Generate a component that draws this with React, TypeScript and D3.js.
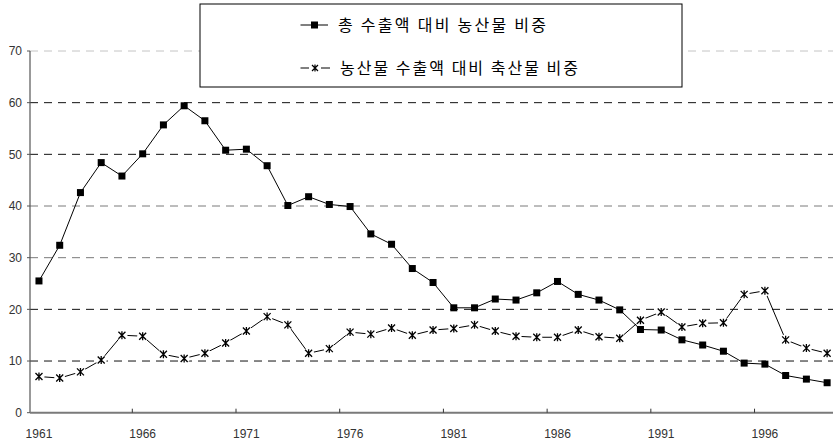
import * as d3 from 'd3';

// 연도 (1961-1999)
const years = d3.range(1961, 2000);

// 총 수출액 대비 농산물 비중 (%)
const agriShare = [
  25.5, 32.4, 42.6, 48.4, 45.8, 50.1, 55.7, 59.4, 56.5, 50.8,
  51.0, 47.8, 40.1, 41.8, 40.3, 39.9, 34.6, 32.6, 27.9, 25.2,
  20.3, 20.3, 22.0, 21.8, 23.2, 25.4, 22.9, 21.8, 19.9, 16.1,
  16.0, 14.1, 13.1, 11.9, 9.6, 9.4, 7.2, 6.5, 5.8,
];

// 농산물 수출액 대비 축산물 비중 (%)
const livestockShare = [
  7.0, 6.7, 7.9, 10.2, 15.0, 14.8, 11.3, 10.5, 11.5, 13.5,
  15.8, 18.6, 17.0, 11.5, 12.4, 15.6, 15.2, 16.4, 15.0, 16.0,
  16.3, 17.0, 15.8, 14.8, 14.6, 14.6, 16.0, 14.7, 14.4, 17.9,
  19.5, 16.6, 17.3, 17.4, 22.9, 23.6, 14.1, 12.5, 11.5,
];

const yTicks = [0, 10, 20, 30, 40, 50, 60, 70];
const xLabelYears = [1961, 1966, 1971, 1976, 1981, 1986, 1991, 1996];
const seriesNames = ['총 수출액 대비 농산물 비중', '농산물 수출액 대비 축산물 비중'];

const W = 833;
const H = 443;

const starPath = (s: number) =>
  `M${-s},${-s}L${s},${s}M${s},${-s}L${-s},${s}M0,${-s - 0.5}L0,${s + 0.5}`;

export default function App() {
  const x = d3.scaleBand<number>().domain(years).range([28.6, 837.5]).padding(0);
  const cx = (yr: number) => (x(yr) ?? 0) + x.bandwidth() / 2;
  const y = d3.scaleLinear().domain([0, 70]).range([412.7, 51]);

  const line = d3
    .line<number>()
    .x((_, i) => cx(years[i]))
    .y((d) => y(d));

  // the scanned original renders some grid lines lighter than others
  const gridColor = (v: number) => (v === 70 ? '#c4c4c4' : v === 30 || v === 40 ? '#7a7a7a' : '#111');
  const font = '"Liberation Sans", Arial, sans-serif';
  const kfont = '"Noto Sans CJK KR", "Noto Sans", sans-serif';

  return (
    <div style={{ position: 'absolute', left: 0, top: 0 }}>
      <svg width={W} height={H} style={{ display: 'block', background: '#fff' }}>
        {/* grid */}
        {yTicks.filter((t) => t > 0).map((t) => (
          <line
            key={t}
            x1={30}
            x2={W}
            y1={y(t)}
            y2={y(t)}
            stroke={gridColor(t)}
            strokeWidth={1}
            strokeDasharray="8,6"
          />
        ))}

        {/* y axis */}
        <line x1={30} x2={30} y1={y(70)} y2={y(0)} stroke="#555" strokeWidth={1.2} />
        {yTicks.map((t) => (
          <g key={t}>
            <line x1={27} x2={30} y1={y(t)} y2={y(t)} stroke="#555" />
            <text
              x={22}
              y={y(t)}
              dy="0.35em"
              textAnchor="end"
              fontFamily={font}
              fontSize={12}
              fill="#333"
            >
              {t}
            </text>
          </g>
        ))}

        {/* x axis */}
        <line x1={30} x2={W} y1={y(0)} y2={y(0)} stroke="#7a7a7a" strokeWidth={2} />
        {xLabelYears.slice(1).map((yr) => (
          <line key={yr} x1={x(yr)} x2={x(yr)} y1={y(0) - 4} y2={y(0)} stroke="#333" />
        ))}
        {xLabelYears.map((yr) => (
          <text
            key={yr}
            x={cx(yr)}
            y={438}
            textAnchor="middle"
            fontFamily={font}
            fontSize={12}
            fill="#333"
          >
            {yr}
          </text>
        ))}

        {/* livestock series (stars) */}
        <path d={line(livestockShare) ?? ''} fill="none" stroke="#000" strokeWidth={1} />
        {livestockShare.map((v, i) => (
          <g key={i} transform={`translate(${cx(years[i])},${y(v)})`}>
            <circle r={5.5} fill="#fff" />
            <path d={starPath(3.5)} stroke="#000" strokeWidth={1.3} fill="none" />
          </g>
        ))}

        {/* agri series (squares) */}
        <path d={line(agriShare) ?? ''} fill="none" stroke="#000" strokeWidth={1} />
        {agriShare.map((v, i) => (
          <rect key={i} x={cx(years[i]) - 3.5} y={y(v) - 3.5} width={7} height={7} fill="#000" />
        ))}

        {/* legend */}
        <rect x={200} y={4} width={482} height={83} fill="#fff" stroke="#000" strokeWidth={1} />
        <line x1={300.5} x2={328} y1={25} y2={25} stroke="#000" strokeWidth={1} />
        <rect x={311} y={21.5} width={7} height={7} fill="#000" />
        <text
          x={338}
          y={25}
          dy="0.36em"
          fontFamily={kfont}
          fontSize={16}
          textLength={208}
          lengthAdjust="spacing"
          fill="#000"
        >
          {seriesNames[0]}
        </text>
        <line x1={300.5} x2={309} y1={68} y2={68} stroke="#000" strokeWidth={1} />
        <line x1={321} x2={330} y1={68} y2={68} stroke="#000" strokeWidth={1} />
        <path d={starPath(3)} transform="translate(315,68)" stroke="#000" strokeWidth={1.2} fill="none" />
        <text
          x={340}
          y={68}
          dy="0.36em"
          fontFamily={kfont}
          fontSize={16}
          textLength={238}
          lengthAdjust="spacing"
          fill="#000"
        >
          {seriesNames[1]}
        </text>
      </svg>
    </div>
  );
}
